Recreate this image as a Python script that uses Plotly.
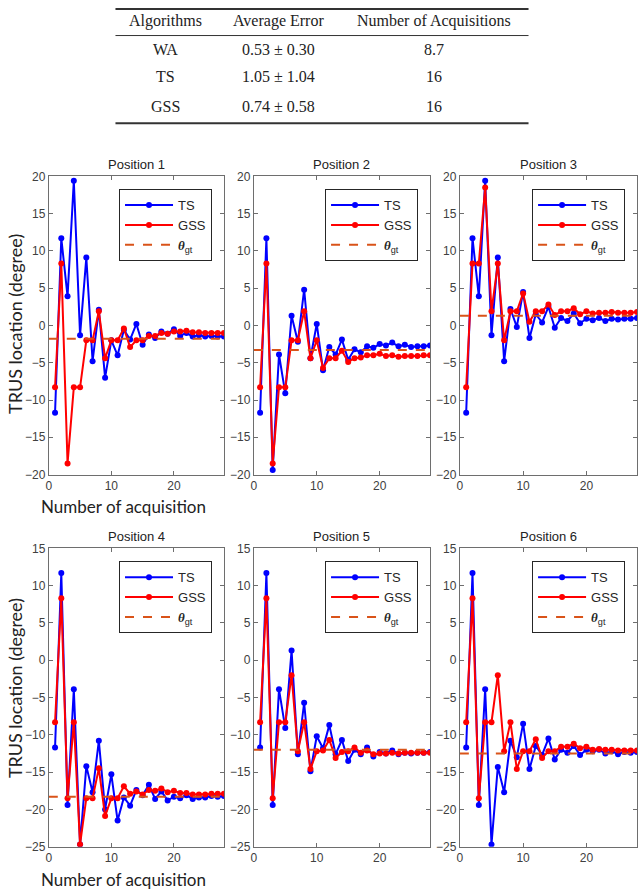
import plotly.graph_objects as go

W, H = 640, 895

# ---- data ----
x_acq = list(range(1, 29))
panel_titles = ["Position 1", "Position 2", "Position 3",
                "Position 4", "Position 5", "Position 6"]

ts_values = [
    [-11.7, 11.7, 3.9, 19.4, -1.3, 9.1, -4.8, 2.1, -7.0, -2.0, -4.0, -0.6, -1.9, 0.2,
     -2.6, -1.2, -1.7, -0.8, -1.1, -0.5, -1.4, -1.0, -1.5, -1.3, -1.5, -1.4, -1.5, -1.5],
    [-11.7, 11.7, -19.4, -3.9, -9.1, 1.3, -2.2, 4.8, -4.4, 0.2, -6.0, -2.9, -3.9, -1.9,
     -4.6, -3.2, -3.6, -2.8, -3.0, -2.5, -2.7, -2.3, -2.8, -2.6, -2.9, -2.8, -2.8, -2.7],
    [-11.7, 11.7, 3.9, 19.4, -1.3, 9.1, -4.8, 2.2, -0.2, 4.5, -1.7, 1.5, 0.4, 2.5,
     -0.3, 1.0, 0.6, 1.6, 0.3, 0.9, 0.7, 1.0, 0.6, 0.9, 0.8, 0.9, 0.9, 1.0],
    [-11.7, 11.7, -19.4, -3.9, -24.7, -14.2, -17.7, -10.8, -20.0, -15.3, -21.5, -18.4, -19.5, -17.4,
     -18.1, -16.7, -18.6, -17.6, -18.8, -18.3, -18.5, -18.1, -18.6, -18.4, -18.4, -18.2, -18.3, -18.2],
    [-11.7, 11.7, -19.4, -3.9, -9.1, 1.3, -12.6, -5.7, -14.9, -10.2, -11.8, -8.7, -12.6, -10.7,
     -13.5, -12.0, -12.6, -11.7, -12.9, -12.3, -12.5, -12.1, -12.6, -12.4, -12.5, -12.4, -12.4, -12.3],
    [-11.7, 11.7, -19.4, -3.9, -24.7, -14.3, -17.7, -10.8, -13.0, -8.5, -14.6, -11.5, -12.7, -10.5,
     -13.3, -12.0, -12.4, -11.5, -12.7, -12.0, -12.2, -12.0, -12.5, -12.2, -12.6, -12.3, -12.4, -12.3],
]

gss_values = [
    [-8.3, 8.3, -18.5, -8.3, -8.3, -2.0, -2.0, 1.9, -4.4, -2.0, -2.0, -0.4, -2.9, -2.0,
     -2.0, -1.4, -1.4, -1.0, -1.1, -0.8, -0.8, -0.7, -0.9, -0.9, -1.0, -1.0, -1.0, -1.0],
    [-8.3, 8.3, -18.5, -8.3, -8.3, -2.0, -2.0, 1.9, -4.4, -2.0, -5.7, -4.4, -4.4, -3.4,
     -4.9, -4.4, -4.3, -4.0, -4.0, -3.8, -4.1, -4.0, -4.2, -4.1, -4.1, -4.1, -4.0, -4.0],
    [-8.3, 8.3, 8.3, 18.5, 1.9, 8.3, -2.0, 1.9, 1.9, 4.3, 0.5, 1.9, 1.9, 2.8,
     1.4, 1.9, 1.9, 2.3, 1.5, 1.9, 1.6, 1.7, 1.7, 1.8, 1.7, 1.7, 1.7, 1.8],
    [-8.3, 8.3, -18.5, -8.3, -24.7, -18.5, -18.5, -14.5, -20.9, -18.5, -18.5, -16.9, -17.9, -17.6,
     -18.0, -17.4, -17.5, -17.2, -17.7, -17.5, -17.8, -17.8, -18.0, -18.0, -18.0, -17.9, -17.9, -17.9],
    [-8.3, 8.3, -18.5, -8.3, -8.3, -2.0, -12.2, -8.3, -14.6, -12.2, -12.1, -10.7, -13.1, -12.3,
     -12.2, -11.7, -12.4, -12.1, -12.6, -12.5, -12.5, -12.4, -12.5, -12.4, -12.4, -12.4, -12.4, -12.4],
    [-8.3, 8.3, -18.5, -8.3, -8.3, -2.0, -12.2, -8.3, -14.6, -12.2, -12.2, -10.6, -13.1, -12.2,
     -12.2, -11.6, -11.6, -11.2, -11.8, -11.6, -12.0, -11.9, -12.0, -12.0, -12.1, -12.1, -12.1, -12.1],
]

theta_gt = [-1.8, -3.3, 1.3, -18.3, -12.0, -12.5]

table_header = ["Algorithms", "Average Error", "Number of Acquisitions"]
table_algorithms = ["WA", "TS", "GSS"]
table_avg_error = ["0.53 \u00b1 0.30", "1.05 \u00b1 1.04", "0.74 \u00b1 0.58"]
table_acquisitions = ["8.7", "16", "16"]

# ---- layout helpers (pixel -> paper) ----
def px(x):
    return x / W


def py(y):
    return 1 - y / H


col_px = [(46, 222), (252, 429), (459, 637)]
row_px = [(172, 475), (550, 853)]
y_ranges = [[-20, 20], [-25, 15]]
x_range = [0, 28]

AX_COLOR = "#6e6e6e"
TICK_FONT = dict(family="Liberation Sans, Arial", size=12, color="#404040")

fig = go.Figure()
layout = dict(
    width=W, height=H,
    margin=dict(l=0, r=0, t=0, b=0),
    paper_bgcolor="white", plot_bgcolor="white",
    annotations=[], shapes=[],
)

for i in range(6):
    r, c = divmod(i, 3)
    n = "" if i == 0 else str(i + 1)
    leg = "legend" + n
    xa, ya = "x" + n, "y" + n

    fig.add_trace(go.Scatter(
        x=x_acq, y=ts_values[i], mode="lines+markers", name="TS",
        line=dict(color="#0000ff", width=2), marker=dict(size=6, color="#0000ff"),
        xaxis=xa, yaxis=ya, legend=leg,
    ))
    fig.add_trace(go.Scatter(
        x=x_acq, y=gss_values[i], mode="lines+markers", name="GSS",
        line=dict(color="#ff0000", width=2), marker=dict(size=6, color="#ff0000"),
        xaxis=xa, yaxis=ya, legend=leg,
    ))
    fig.add_trace(go.Scatter(
        x=x_range, y=[theta_gt[i]] * 2, mode="lines",
        name="<span style='font-family:Liberation Serif'><b><i>\u03b8</i></b></span><sub>gt</sub>",
        line=dict(color="#d95319", width=2, dash="dash"),
        xaxis=xa, yaxis=ya, legend=leg,
    ))

    x0, x1 = col_px[c]
    y0, y1 = row_px[r]
    layout["xaxis" + n] = dict(
        domain=[px(x0), px(x1)], range=x_range, anchor=ya,
        tickmode="linear", tick0=0, dtick=10,
        showline=True, linecolor=AX_COLOR, linewidth=1, mirror="ticks",
        ticks="inside", ticklen=4, tickcolor=AX_COLOR,
        showgrid=False, zeroline=False, tickfont=TICK_FONT,
    )
    layout["yaxis" + n] = dict(
        domain=[py(y1), py(y0)], range=y_ranges[r], anchor=xa,
        tickmode="linear", tick0=0, dtick=5,
        showline=True, linecolor=AX_COLOR, linewidth=1, mirror="ticks",
        ticks="inside", ticklen=4, tickcolor=AX_COLOR,
        showgrid=False, zeroline=False, tickfont=TICK_FONT,
    )
    layout[leg] = dict(
        x=px(x1 - 12), y=py(y0 + 13), xanchor="right", yanchor="top",
        bgcolor="white", bordercolor="#262626", borderwidth=1,
        font=dict(family="Liberation Sans, Arial", size=13, color="#262626"),
        itemwidth=48, tracegroupgap=0,
    )
    layout["annotations"].append(dict(
        text=panel_titles[i], x=px((x0 + x1) / 2), y=py(y0 - 12),
        xref="paper", yref="paper", showarrow=False,
        xanchor="center", yanchor="middle",
        font=dict(family="Liberation Sans, Arial", size=13, color="#222222"),
    ))

# axis titles
for r, (ycen, xlab_y) in enumerate([(322, 507), (692, 886)]):
    layout["annotations"].append(dict(
        text="TRUS location (degree)", x=px(12), y=py(ycen),
        xref="paper", yref="paper", showarrow=False, textangle=-90,
        xanchor="center", yanchor="middle",
        font=dict(family="Lato, Noto Sans", size=18, color="#222222"),
    ))
    layout["annotations"].append(dict(
        text="Number of acquisition", x=px(121), y=py(xlab_y),
        xref="paper", yref="paper", showarrow=False,
        xanchor="center", yanchor="middle",
        font=dict(family="Lato, Noto Sans", size=17, color="#222222"),
    ))

# ---- table ----
TABLE_FONT = dict(family="Liberation Serif, Times New Roman", size=16, color="#222222")
col_x = [163, 277, 433]
row_y = [43, 71, 101]
for cx, label in zip(col_x, table_header):
    layout["annotations"].append(dict(
        text=label, x=px(cx), y=py(14), xref="paper", yref="paper",
        showarrow=False, xanchor="center", yanchor="middle", font=TABLE_FONT,
    ))
for ry, a, e, n_acq in zip(row_y, table_algorithms, table_avg_error, table_acquisitions):
    for cx, label in zip(col_x, [a, e, n_acq]):
        layout["annotations"].append(dict(
            text=label, x=px(cx), y=py(ry), xref="paper", yref="paper",
            showarrow=False, xanchor="center", yanchor="middle", font=TABLE_FONT,
        ))

for ly, lw in [(2, 2), (29, 1), (118, 2)]:
    layout["shapes"].append(dict(
        type="line", xref="paper", yref="paper",
        x0=px(113), x1=px(528), y0=py(ly), y1=py(ly),
        line=dict(color="#333333", width=lw),
    ))

fig.update_layout(**layout)
fig.write_html(
    "out.html",
    config={"displayModeBar": False},
    post_script="document.body.style.margin = '0';",
)
